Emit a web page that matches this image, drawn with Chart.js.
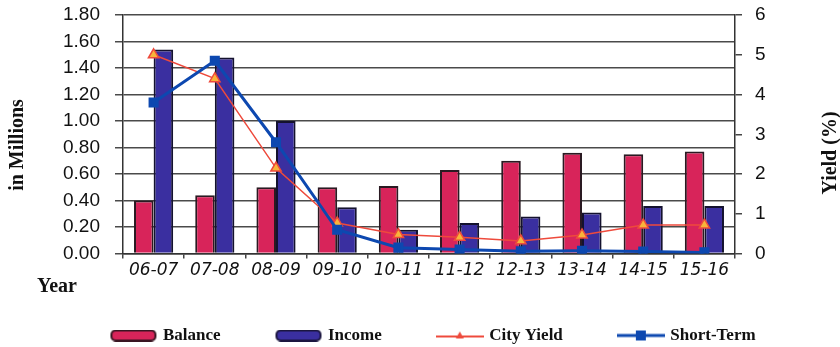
<!DOCTYPE html>
<html>
<head>
<meta charset="utf-8">
<script src="https://cdn.jsdelivr.net/npm/chart.js@4.4.1/dist/chart.umd.min.js"></script>
<style>
  html, body { margin: 0; padding: 0; background: #fff; }
  #wrap { width: 840px; height: 347px; position: relative; }
</style>
</head>
<body>
<div id="wrap"><canvas id="yieldChart"></canvas></div>
<script>
// Fiscal years on the x axis
const years = ['06-07', '07-08', '08-09', '09-10', '10-11', '11-12', '12-13', '13-14', '14-15', '15-16'];

// Bars, in millions (left axis)
const balance = [0.40, 0.44, 0.50, 0.50, 0.51, 0.63, 0.70, 0.76, 0.75, 0.77];
const income = [1.54, 1.48, 1.00, 0.35, 0.18, 0.23, 0.28, 0.31, 0.36, 0.36];

// Lines, yield in % (right axis)
const cityYield = [5.0, 4.4, 2.15, 0.77, 0.48, 0.41, 0.32, 0.47, 0.72, 0.72];
const shortTerm = [3.8, 4.85, 2.8, 0.6, 0.15, 0.1, 0.06, 0.07, 0.05, 0.03];

const RED = '#D8245A';
const PURPLE = '#3A2FA0';
const LINE_RED = '#EE4A3C';
const BLUE = '#0D48B0';

// little canvases used as legend symbols
function makeIcon(draw) {
    const c = document.createElement('canvas');
    c.width = 48;
    c.height = 12;
    draw(c.getContext('2d'));
    return c;
}

const legendIcons = [
    makeIcon(g => {
        g.fillStyle = RED; g.strokeStyle = '#3a1522'; g.lineWidth = 2;
        g.beginPath(); g.roundRect(2, 1, 44, 10, 4); g.fill(); g.stroke();
    }),
    makeIcon(g => {
        g.fillStyle = PURPLE; g.strokeStyle = '#1b1640'; g.lineWidth = 2;
        g.beginPath(); g.roundRect(2, 1, 44, 10, 4); g.fill(); g.stroke();
    }),
    makeIcon(g => {
        g.strokeStyle = LINE_RED; g.lineWidth = 2;
        g.beginPath(); g.moveTo(0, 7); g.lineTo(48, 7); g.stroke();
        g.fillStyle = LINE_RED;
        g.beginPath(); g.moveTo(24, 2); g.lineTo(28, 9); g.lineTo(20, 9); g.closePath(); g.fill();
    }),
    makeIcon(g => {
        g.strokeStyle = BLUE; g.lineWidth = 3;
        g.beginPath(); g.moveTo(0, 6); g.lineTo(48, 6); g.stroke();
        g.fillStyle = BLUE;
        g.fillRect(19, 1, 10, 10);
    })
];

// fixed axis widths, and no extra room above/below for the end labels
const fitAxis = width => scale => {
    scale.width = width;
    scale.paddingTop = 0;
    scale.paddingBottom = 0;
};

// axis titles drawn by hand (the right one reads bottom-to-top, "Year" sits at the left)
const axisTitles = {
    id: 'axisTitles',
    afterLayout(chart) {
        const lg = chart.legend;
        lg.top = 270;
        lg.left += 14;
        lg.right += 14;
    },
    afterDraw(chart) {
        const {ctx, chartArea, width} = chart;
        ctx.save();
        ctx.fillStyle = '#111';
        ctx.textAlign = 'center';
        ctx.textBaseline = 'middle';
        ctx.font = 'bold 20px "Liberation Serif"';
        ctx.fillText('Year', chartArea.left - 66, chartArea.bottom + 33);

        const vertical = (text, x, y) => {
            ctx.save();
            ctx.translate(x, y);
            ctx.rotate(-Math.PI / 2);
            ctx.fillText(text, 0, 0);
            ctx.restore();
        };
        vertical('in Millions', 18, chartArea.top + 130);
        vertical('Yield (%)', width - 9, chartArea.top + 138);
        ctx.restore();
    }
};

const ctx = document.getElementById('yieldChart').getContext('2d');

new Chart(ctx, {
    data: {
        labels: years,
        datasets: [
            {
                type: 'bar',
                label: 'Balance',
                data: balance,
                backgroundColor: RED,
                borderColor: '#2a1a22',
                borderWidth: 2,
                yAxisID: 'y',
                order: 2
            },
            {
                type: 'bar',
                label: 'Income',
                data: income,
                backgroundColor: PURPLE,
                borderColor: '#14122e',
                borderWidth: 2,
                yAxisID: 'y',
                order: 2
            },
            {
                type: 'line',
                label: 'City Yield',
                data: cityYield,
                borderColor: LINE_RED,
                borderWidth: 1.5,
                pointStyle: 'triangle',
                pointRadius: 6,
                pointBackgroundColor: '#F8B43A',
                pointBorderColor: LINE_RED,
                pointBorderWidth: 1.5,
                tension: 0,
                yAxisID: 'y1',
                order: 1
            },
            {
                type: 'line',
                label: 'Short-Term',
                data: shortTerm,
                borderColor: BLUE,
                borderWidth: 3,
                pointStyle: 'rect',
                pointRadius: 5,
                pointBackgroundColor: BLUE,
                pointBorderColor: BLUE,
                tension: 0,
                yAxisID: 'y1',
                order: 0
            }
        ]
    },
    options: {
        responsive: true,
        maintainAspectRatio: false,
        animation: false,
        layout: {
            padding: { top: 15, left: 0, right: 0, bottom: 0 }
        },
        datasets: {
            bar: { categoryPercentage: 0.64, barPercentage: 1 }
        },
        scales: {
            x: {
                grid: {
                    drawOnChartArea: false,
                    tickLength: 5,
                    color: '#444',
                    lineWidth: 1.5
                },
                border: { color: '#333', width: 1.5 },
                ticks: {
                    color: '#111',
                    padding: 2,
                    maxRotation: 0,
                    font: { family: '"DejaVu Sans"', size: 17, style: 'italic' }
                }
            },
            y: {
                position: 'left',
                min: 0,
                max: 1.8,
                afterFit: fitAxis(123),
                grid: {
                    color: '#4a4a4a',
                    lineWidth: 1.5,
                    tickLength: 8
                },
                border: { color: '#333', width: 1.5 },
                ticks: {
                    stepSize: 0.2,
                    autoSkip: false,
                    padding: 15,
                    color: '#111',
                    font: { family: '"Liberation Sans"', size: 19 },
                    callback: v => v.toFixed(2)
                }
            },
            y1: {
                position: 'right',
                min: 0,
                max: 6,
                afterFit: fitAxis(105),
                grid: {
                    drawOnChartArea: false,
                    color: '#444',
                    lineWidth: 1.5,
                    tickLength: 7
                },
                border: { color: '#333', width: 1.5 },
                ticks: {
                    stepSize: 1,
                    autoSkip: false,
                    padding: 13,
                    color: '#111',
                    font: { family: '"Liberation Sans"', size: 19 }
                }
            }
        },
        plugins: {
            legend: {
                position: 'bottom',
                maxHeight: 64,
                labels: {
                    usePointStyle: true,
                    pointStyleWidth: 42,
                    boxHeight: 17,
                    padding: 57,
                    color: '#111',
                    font: { family: '"Liberation Serif"', size: 17, weight: 'bold' },
                    sort: (a, b) => a.datasetIndex - b.datasetIndex,
                    generateLabels(chart) {
                        const items = Chart.defaults.plugins.legend.labels.generateLabels(chart);
                        items.forEach(it => { it.pointStyle = legendIcons[it.datasetIndex]; });
                        return items;
                    }
                }
            },
            tooltip: { enabled: false }
        }
    },
    plugins: [axisTitles]
});
</script>
</body>
</html>
